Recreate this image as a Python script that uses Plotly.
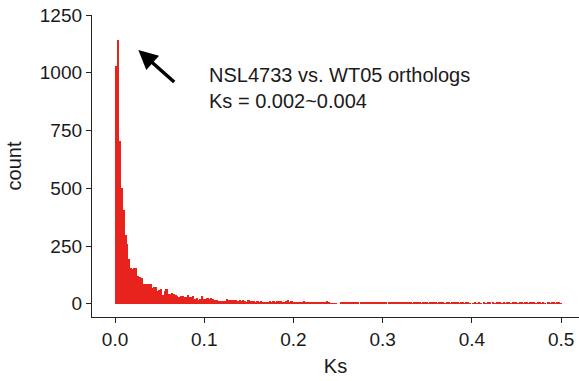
import plotly.graph_objects as go

# ---- data ----
bin_width = 0.002
counts_head = [
    1028, 1141, 703, 500, 404, 296, 261, 196, 154, 149,
    154, 154, 120, 114, 110, 88, 88, 84, 84, 84,
    68, 72, 72, 55, 59, 63, 37, 55, 63, 42,
    42, 46, 42, 37, 33, 28, 33, 33, 29, 29,
    37, 29, 29, 33, 20, 24, 16, 20, 33, 20,
    20, 24, 20, 24, 20, 16, 16, 11, 11, 11,
    11, 11, 20, 16,
]
counts_mid = [
    17, 17, 17, 17, 13, 17, 13, 17, 13, 9,
    17, 13, 13, 13, 9, 13, 9, 13, 9, 9,
    9, 9, 13, 9, 13, 9, 13, 13, 13, 9,
    9, 13, 17, 9, 13, 9, 4, 9, 4, 4,
    4, 13, 9, 9, 9, 4, 9, 4, 4, 4,
    9, 4, 9, 9, 13, 4, 3, 3, 3, 3,
    0,
]
counts_tail1 = [
    0, 9, 9, 9, 9, 9, 9, 9, 7, 4,
    4, 0, 9, 9, 9, 4, 4, 4, 9, 4,
    9, 4, 4, 4, 4, 4, 9, 0, 4, 4,
    4, 4, 4, 9, 4,
]
counts_tail2 = [
    4, 9, 4, 9, 4, 4, 3, 4, 5, 9,
    4, 3, 4, 4, 5, 3, 4, 9, 4, 4,
    3, 4, 5, 4, 3, 4, 4, 3, 9, 4,
    9, 4, 3, 4, 4, 3, 4, 5, 3, 0,
    1, 4, 3, 4, 3, 0, 4, 3, 9, 4,
    0, 4, 3, 4, 4, 5, 3, 4, 3, 4,
    4, 3, 9, 9, 4, 3, 4, 4, 3, 4,
    5, 3, 4, 9, 4, 3, 4, 4, 3, 4,
    3, 0, 4, 3, 4, 4, 3, 9, 4, 3,
]
counts = counts_head + counts_mid + counts_tail1 + counts_tail2
ks_centers = [round(bin_width * (i + 1), 4) for i in range(len(counts))]

x_ticks = [0.0, 0.1, 0.2, 0.3, 0.4, 0.5]
y_ticks = [0, 250, 500, 750, 1000, 1250]

label_line1 = "NSL4733 vs. WT05 orthologs"
label_line2 = "Ks = 0.002~0.004"

# ---- figure ----
fig = go.Figure()
fig.add_trace(go.Bar(
    x=ks_centers, y=counts, width=bin_width,
    marker=dict(color="#E8221C", line=dict(width=0)),
    showlegend=False,
))

font_family = "Liberation Sans, Arial, sans-serif"
fig.update_layout(
    width=579, height=381,
    margin=dict(l=92, r=0, t=15, b=64),
    paper_bgcolor="white", plot_bgcolor="white",
    bargap=0,
    font=dict(family=font_family, size=19, color="#1a1a1a"),
    xaxis=dict(
        range=[-0.0258, 0.520],
        tickvals=x_ticks, tickformat=".1f",
        showline=True, linecolor="#222", linewidth=1.3,
        ticks="outside", ticklen=5, tickcolor="#222", tickwidth=1.3,
        showgrid=False, zeroline=False,
        tickfont=dict(size=19, color="#1a1a1a"),
        title=dict(text="Ks", font=dict(size=20, color="#1a1a1a"), standoff=10),
    ),
    yaxis=dict(
        range=[-57, 1250],
        tickvals=y_ticks,
        showline=True, linecolor="#222", linewidth=1.3,
        ticks="outside", ticklen=5, tickcolor="#222", tickwidth=1.3,
        showgrid=False, zeroline=False,
        tickfont=dict(size=19, color="#1a1a1a"),
        title=dict(text="count", font=dict(size=20, color="#1a1a1a"), standoff=12),
    ),
)

fig.add_annotation(
    x=0.0261, y=1098, ax=0.068, ay=954,
    xref="x", yref="y", axref="x", ayref="y",
    text="", showarrow=True, arrowhead=2, arrowsize=1.1,
    arrowwidth=3.5, arrowcolor="black",
)
fig.add_annotation(
    x=0.103, y=934, xref="x", yref="y",
    text=label_line1 + "<br>" + label_line2,
    showarrow=False, xanchor="left", yanchor="middle", align="left",
    font=dict(size=20, color="#1a1a1a", family=font_family),
)

fig.write_html("out.html")
